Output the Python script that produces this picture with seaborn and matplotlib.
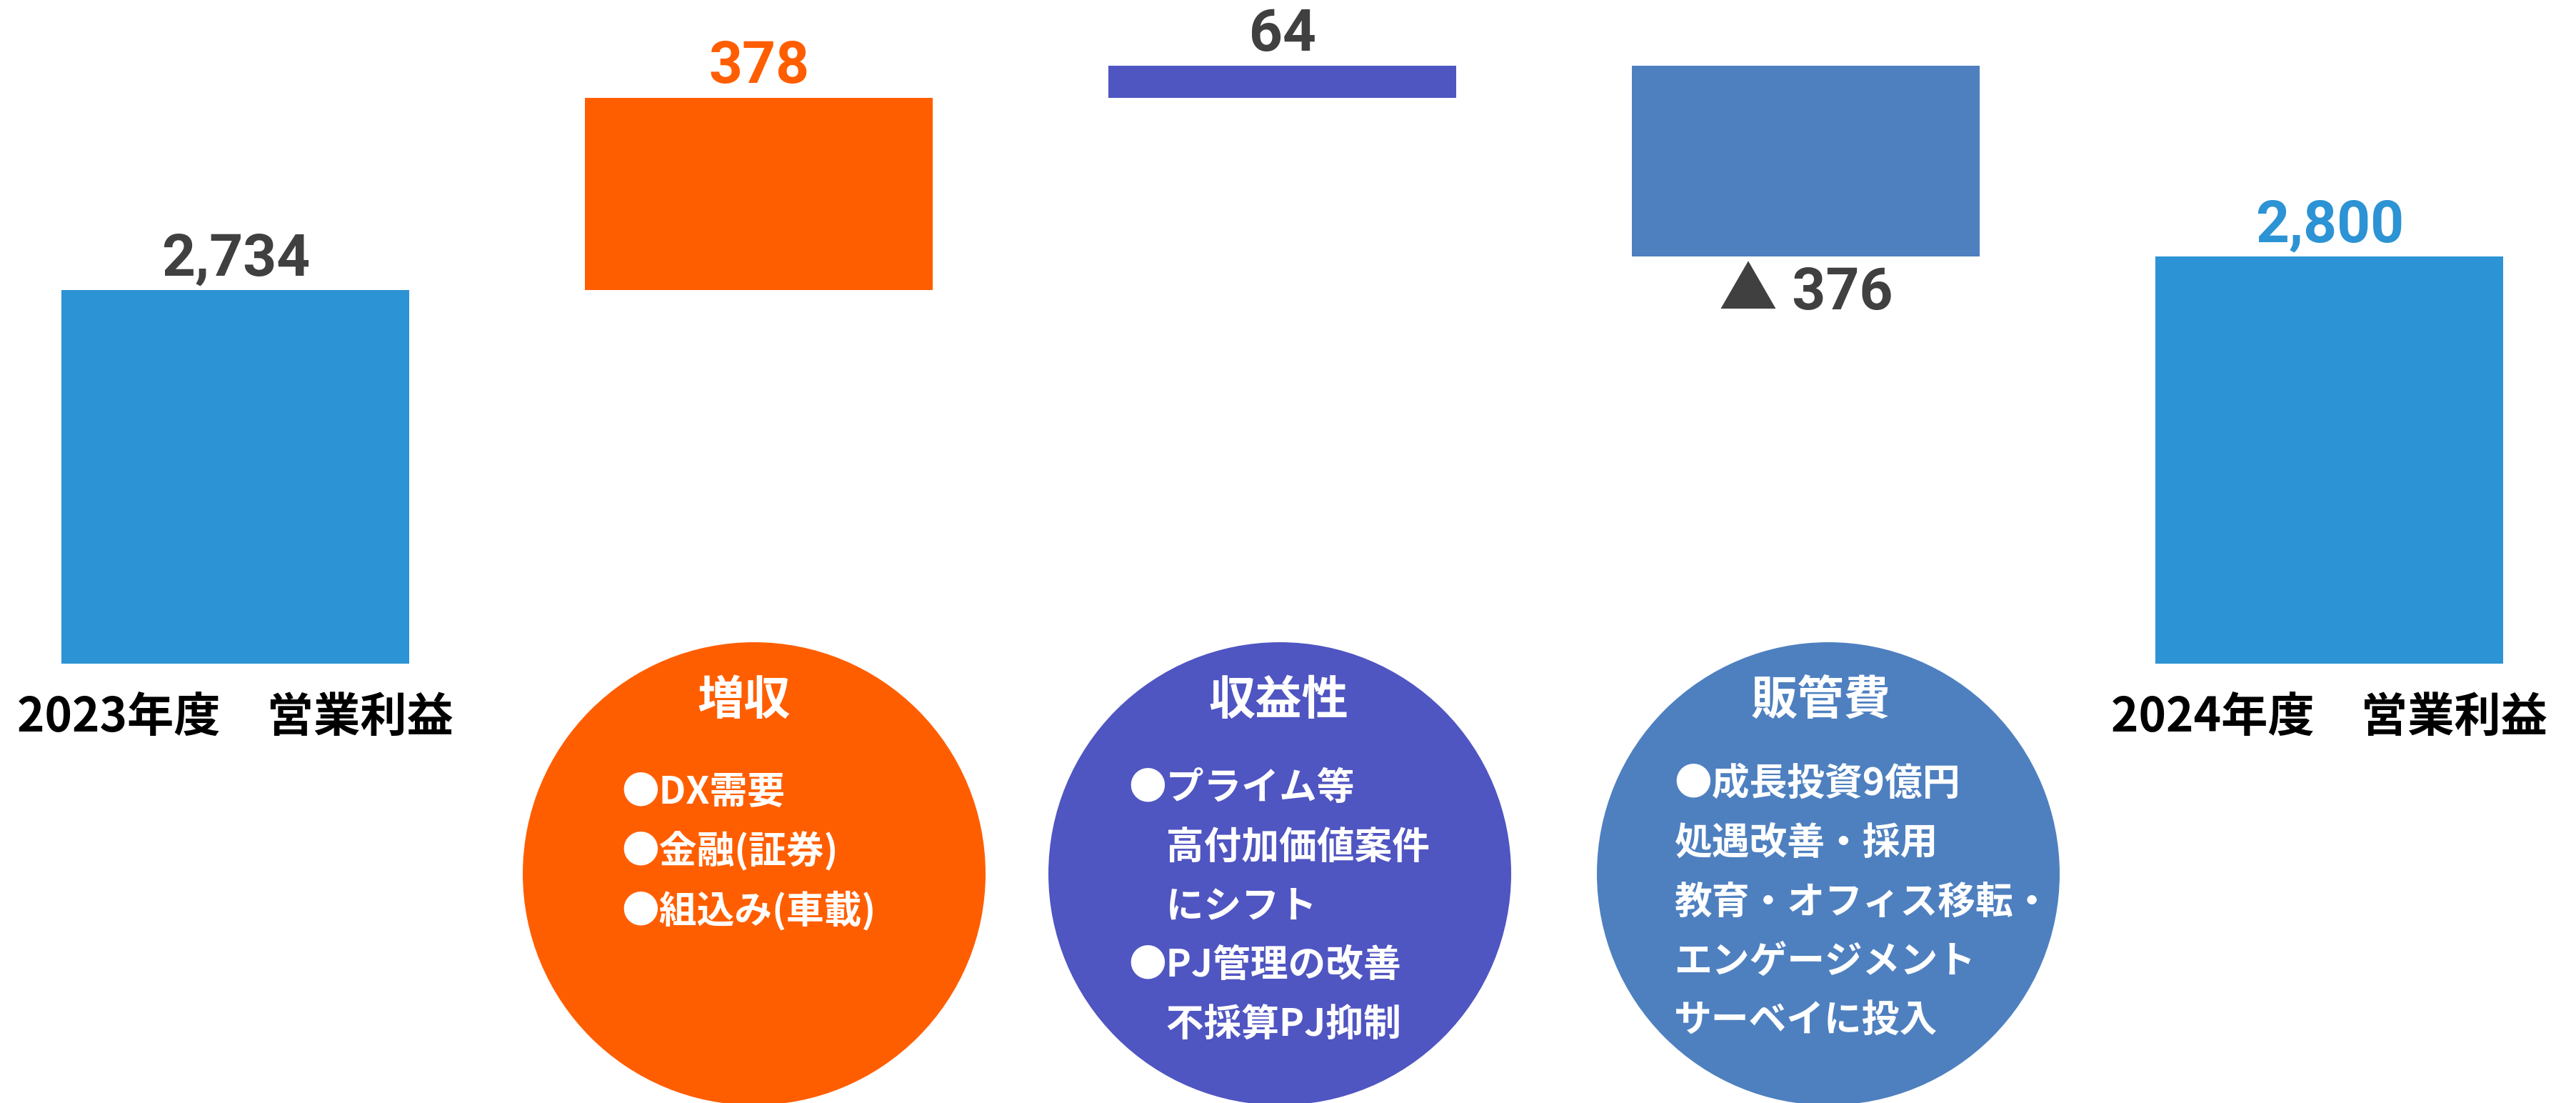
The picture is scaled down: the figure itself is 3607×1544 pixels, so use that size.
import matplotlib
matplotlib.use("Agg")
import matplotlib.pyplot as plt
from matplotlib.patches import Circle
import seaborn as sns
import pandas as pd

# ---- data -------------------------------------------------------------
categories = ["2023年度　営業利益", "増収", "収益性", "販管費", "2024年度　営業利益"]
kinds = ["total", "delta", "delta", "delta", "total"]
values = [2734, 378, 64, -376, 2800]
value_labels = ["2,734", "378", "64", "▲ 376", "2,800"]
tick_labels = ["2023年度　営業利益", "", "", "", "2024年度　営業利益"]

bar_colors = ["#2C93D4", "#FF5E00", "#4F55C1", "#4E80C0", "#2C93D4"]
label_colors = ["#404040", "#FF5E00", "#404040", "#404040", "#2C93D4"]

circle_titles = ["増収", "収益性", "販管費"]
circle_lines = [
    ["●DX需要", "●金融(証券)", "●組込み(車載)"],
    ["●プライム等", "　高付加価値案件", "　にシフト", "●PJ管理の改善", "　不採算PJ抑制"],
    ["●成長投資9億円", "処遇改善・採用", "教育・オフィス移転・", "エンゲージメント", "サーベイに投入"],
]
circle_colors = ["#FF5E00", "#4F55C1", "#4E80C0"]

# ---- layout (pixels) --------------------------------------------------
W, H, DPI = 3607, 1544, 100
BASE_PX = 929                 # bar baseline from the top edge
Y_FLOOR, Y_TOP = 2000, 3305   # truncated value axis
circle_centers = [(1056, 1223), (1792, 1223), (2560, 1223)]
circle_radius = 324
title_x = [1042, 1790, 2550]
title_y = 980
text_x = [870, 1580, 2344]
text_y0 = [1109, 1103, 1097]
line_step = 83

sns.set_style("white")
plt.rcParams["font.family"] = ["Noto Sans CJK JP", "DejaVu Sans"]
NUM_FONT = ["Roboto", "Noto Sans CJK JP", "DejaVu Sans"]

# running start of each bar in the waterfall
starts = []
running = 0
for kind, v in zip(kinds, values):
    if kind == "total":
        starts.append(0)
        running = v
    else:
        starts.append(running)
        running += v

fig = plt.figure(figsize=(W / DPI, H / DPI), dpi=DPI)

# explanatory circles sit on a full-figure layer behind the bars
ov = fig.add_axes([0, 0, 1, 1], zorder=0)
ov.set_xlim(0, W)
ov.set_ylim(H, 0)
ov.axis("off")

ax = fig.add_axes([0, 1 - BASE_PX / H, 1, BASE_PX / H], zorder=1)
ax.set_facecolor("none")

df = pd.DataFrame({"category": categories, "value": values})
sns.barplot(data=df, x="category", y="value", hue="category",
            palette=bar_colors, saturation=1, legend=False,
            width=0.664, ax=ax)

# lift the step bars onto the running total
for cont, kind, s in zip(ax.containers, kinds, starts):
    for rect in cont:
        if kind == "delta":
            rect.set_y(s)
        rect.set_linewidth(0)

for cont, lab, col, v in zip(ax.containers, value_labels, label_colors, values):
    ax.bar_label(cont, labels=[lab], padding=3 if v >= 0 else 9, color=col,
                 fontsize=59, fontweight="bold", family=NUM_FONT)

ax.set_xlim(-0.45, 4.471)
ax.set_ylim(Y_FLOOR, Y_TOP)
ax.set_xticks(range(len(categories)))
ax.set_xticklabels(tick_labels, fontsize=47, fontweight="bold", color="black")
ax.tick_params(axis="x", length=0, pad=30)
ax.set_yticks([])
ax.set_xlabel("")
ax.set_ylabel("")
for sp in ax.spines.values():
    sp.set_visible(False)

for i, ((cx, cy), col) in enumerate(zip(circle_centers, circle_colors)):
    ov.add_patch(Circle((cx, cy), circle_radius, facecolor=col, edgecolor="none"))
    ov.text(title_x[i], title_y, circle_titles[i], ha="center", va="center",
            fontsize=47, fontweight="bold", color="white")
    for j, line in enumerate(circle_lines[i]):
        ov.text(text_x[i], text_y0[i] + j * line_step, line, ha="left",
                va="center", fontsize=38, fontweight="bold", color="white")

fig.savefig("out.png", dpi=DPI, facecolor="white")
